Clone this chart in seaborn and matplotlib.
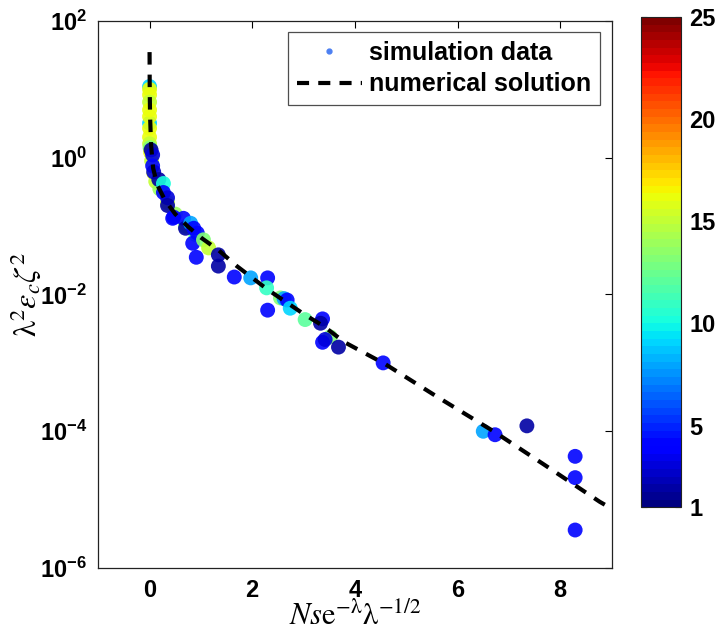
import numpy as np
import pandas as pd
import matplotlib
matplotlib.use("Agg")
import matplotlib.pyplot as plt
import seaborn as sns
from matplotlib.lines import Line2D
from matplotlib.ticker import FixedLocator, NullLocator, LogFormatterMathtext

# simulation data: x, y, colour value (drawn in list order)
sim_x = [0.0, 0.0, 0.0, 0.0, 0.0, 0.0, 0.0, 0.0, 0.0, 0.0, 0.01, 0.02, 0.04, 0.08, 0.12,
         0.2, 0.35, 0.5, 0.7, 0.9,
         0.03, 0.06, 0.06, 0.08, 0.18, 0.27, 0.27, 0.35, 0.35, 0.47, 0.45, 0.66, 0.70,
         0.80, 0.86, 0.93, 0.84, 1.05, 1.15, 0.91, 1.34, 1.34, 1.65, 1.97, 2.30, 2.28,
         2.30, 2.55, 2.62, 2.68, 2.74, 3.03, 3.37, 3.33, 3.52, 3.37, 3.42, 3.68, 4.55,
         6.50, 6.73, 7.35, 8.29, 8.29, 8.29]
sim_y = [11.0, 3.2, 10.0, 8.3, 6.5, 5.0, 4.0, 2.7, 2.0, 1.6, 1.4, 1.2, 0.9, 0.6, 0.45,
         0.35, 0.22, 0.15, 0.1, 0.075,
         1.3, 1.1, 0.76, 0.62, 0.48, 0.42, 0.31, 0.26, 0.2, 0.135, 0.13, 0.13, 0.093,
         0.11, 0.093, 0.079, 0.056, 0.063, 0.048, 0.035, 0.038, 0.026, 0.018, 0.0175, 0.0175, 0.0125,
         0.0059, 0.0089, 0.0087, 0.0083, 0.0063, 0.0043, 0.0044, 0.0038, 0.0024, 0.0020, 0.0022, 0.0017, 0.0010,
         1.0e-4, 8.9e-5, 1.2e-4, 4.3e-5, 2.1e-5, 3.6e-6]
sim_c = [9, 9, 16, 16, 15, 16, 16, 16, 16, 15, 13, 16, 15, 16, 15,
         14, 15, 14, 13, 12,
         2, 3, 4, 3, 2, 10, 4, 3, 2, 4, 4, 4, 2,
         8, 4, 4, 4, 13, 15, 4, 2, 2, 4, 8, 4, 11,
         4, 13, 8, 4, 9, 12, 4, 2, 13, 4, 3, 2, 4,
         8, 4, 2, 4, 4, 4]

# numerical solution
sol_x = [0.0, 0.003, 0.01, 0.03, 0.07, 0.15, 0.3, 0.5, 0.75, 1.0, 1.35, 1.7, 2.3,
         3.0, 3.4, 3.8, 4.6, 5.6, 6.7, 7.7, 8.77, 9.0]
sol_y = [35, 10, 4, 1.5, 0.7, 0.4, 0.24, 0.15, 0.098, 0.068, 0.044, 0.026, 0.0118,
         0.0052, 0.0034, 0.002, 9.5e-4, 3.2e-4, 1.0e-4, 3.2e-5, 9.3e-6, 7.4e-6]

sns.set_style("white")
plt.rcParams['font.family'] = ['Liberation Sans', 'DejaVu Sans']
plt.rcParams['font.weight'] = 'normal'
plt.rcParams['mathtext.fontset'] = 'stix'
for k in ['text.color', 'axes.labelcolor', 'xtick.color', 'ytick.color']:
    plt.rcParams[k] = 'black'

jet = plt.get_cmap('jet', 64)

fig = plt.figure(figsize=(7.17, 6.34), dpi=100)
ax = fig.add_axes([0.137, 0.104, 0.716, 0.863])

df = pd.DataFrame({'x': sim_x, 'y': sim_y, 'c': sim_c})
sns.scatterplot(data=df, x='x', y='y', hue='c', palette=jet, hue_norm=(1, 25),
                s=115, edgecolor='none', alpha=0.9, legend=False, ax=ax, zorder=2)
sns.lineplot(x=sol_x, y=sol_y, color='k', lw=3, ax=ax, zorder=3, sort=False)
ax.lines[-1].set_dashes([3.0, 2.4])

ax.set_yscale('log')
ax.set_xlim(-1, 9)
ax.set_ylim(1e-6, 1e2)
ax.xaxis.set_major_locator(FixedLocator([0, 2, 4, 6, 8]))
ax.yaxis.set_major_locator(FixedLocator([1e-6, 1e-4, 1e-2, 1, 1e2]))
ax.yaxis.set_major_formatter(LogFormatterMathtext())
ax.yaxis.set_minor_locator(NullLocator())
ax.xaxis.set_minor_locator(NullLocator())
ax.tick_params(direction='in', length=5, width=0.8, top=True, right=True,
               labelsize=17, pad=8)
for lab in ax.get_xticklabels() + ax.get_yticklabels():
    lab.set_fontweight('bold')
for sp in ax.spines.values():
    sp.set_color('#222222')
    sp.set_linewidth(0.9)

ax.set_xlabel(r'$Ns\mathrm{e}^{-\mathrm{\lambda}}\mathrm{\lambda}^{-1/2}$', fontsize=22,
              labelpad=-1)
ax.set_ylabel(r'$\mathrm{\lambda}^2\varepsilon_c\zeta^2$', fontsize=23, labelpad=-2)

handles = [Line2D([], [], marker='o', ls='', color=(0.3, 0.5, 0.95), markersize=3.5),
           Line2D([], [], color='k', ls='--', lw=3, dashes=[2.9, 2.2])]
leg = ax.legend(handles, ['simulation data', 'numerical solution'], loc='upper right',
                prop={'size': 18, 'weight': 'bold'}, frameon=True, fancybox=False,
                handlelength=2.6, handletextpad=0.3, borderaxespad=0.45,
                borderpad=0.35, labelspacing=0.3)
leg.get_frame().set_edgecolor('#222222')
leg.get_frame().set_linewidth(0.9)

cax = fig.add_axes([0.894, 0.2, 0.056, 0.773])
sm = plt.cm.ScalarMappable(cmap=jet, norm=plt.Normalize(1, 25))
cb = fig.colorbar(sm, cax=cax, ticks=[1, 5, 10, 15, 20, 25])
cb.outline.set_edgecolor('#222222')
cb.outline.set_linewidth(0.8)
cax.tick_params(which='both', direction='in', length=4, left=True, right=True,
                labelsize=17, pad=6)
cax.yaxis.set_minor_locator(NullLocator())
for lab in cax.get_yticklabels():
    lab.set_fontweight('bold')

fig.savefig('out.png', dpi=100)
